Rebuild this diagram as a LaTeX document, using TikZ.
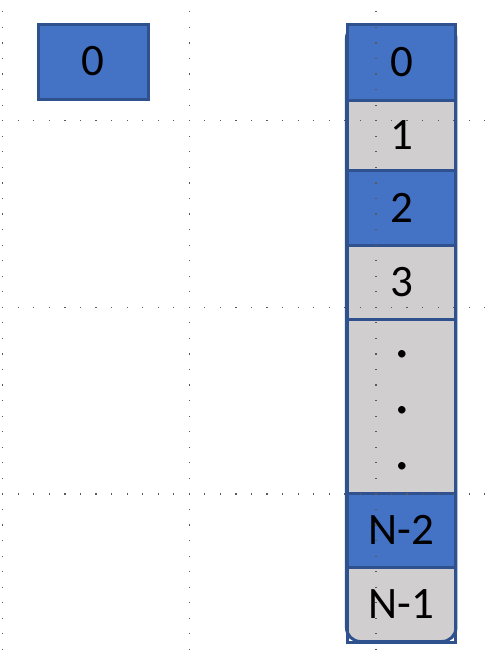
\documentclass[tikz,border=0pt]{standalone}
\usepackage{fontspec}
\setmainfont{Carlito}
\definecolor{cblue}{HTML}{4472C4}
\definecolor{cborder}{HTML}{2F528F}
\definecolor{cgray}{HTML}{D0CECE}
\begin{document}
\begin{tikzpicture}[x=1pt,y=-1pt,
  cell/.style={draw=cborder,line width=3pt,minimum width=108.5pt,inner sep=0pt,
               font=\fontsize{45}{54}\selectfont},
  bluecell/.style={cell,fill=cblue},
  graycell/.style={cell,fill=cgray},
  dotlabel/.style={inner sep=0pt,font=\fontsize{62}{70}\selectfont},
  griddot/.style={fill=black!65}]
\useasboundingbox (0,0) rectangle (490,664);
% single box
\node[bluecell,minimum width=110pt,minimum height=75pt] (single) at (93,61.5) {0};
% column background
\node[draw=cborder,fill=cgray,line width=3pt,rounded corners=14pt,
      minimum width=109.5pt,minimum height=617pt,inner sep=0pt] (column) at (401.2,333) {};
% cells
\node[bluecell,minimum height=75.5pt] (c0) at (401.5,62.25) {0};
\node[graycell,minimum height=70pt] (c1) at (401.5,135) {1};
\node[bluecell,minimum height=75pt] (c2) at (401.5,207.5) {2};
\node[graycell,minimum height=74pt] (c3) at (401.5,282) {3};
\node[graycell,minimum height=174pt] (cd) at (401.5,406) {};
\node[bluecell,minimum height=74pt] (c5) at (401.5,530) {N-2};
\node[cell,minimum height=75pt] (c6) at (401.5,604.5) {N-1};
\node[dotlabel] (d1) at (402.5,354) {.};
\node[dotlabel] (d2) at (402.5,410) {.};
\node[dotlabel] (d3) at (402.5,466) {.};
% grid dots
\foreach \gx in {2.7,189.3,375.9}{
  \foreach \k in {0,...,41}{
    \fill[griddot] ({\gx-0.6},{11.85+\k*15.55-0.6}) rectangle ++(1.2,1.2);
  }
}
\foreach \gy in {120.7,307.3,493.9}{
  \foreach \k in {0,...,31}{
    \fill[griddot] ({2.7+\k*15.55-0.6},{\gy-0.6}) rectangle ++(1.2,1.2);
  }
}
\end{tikzpicture}
\end{document}
